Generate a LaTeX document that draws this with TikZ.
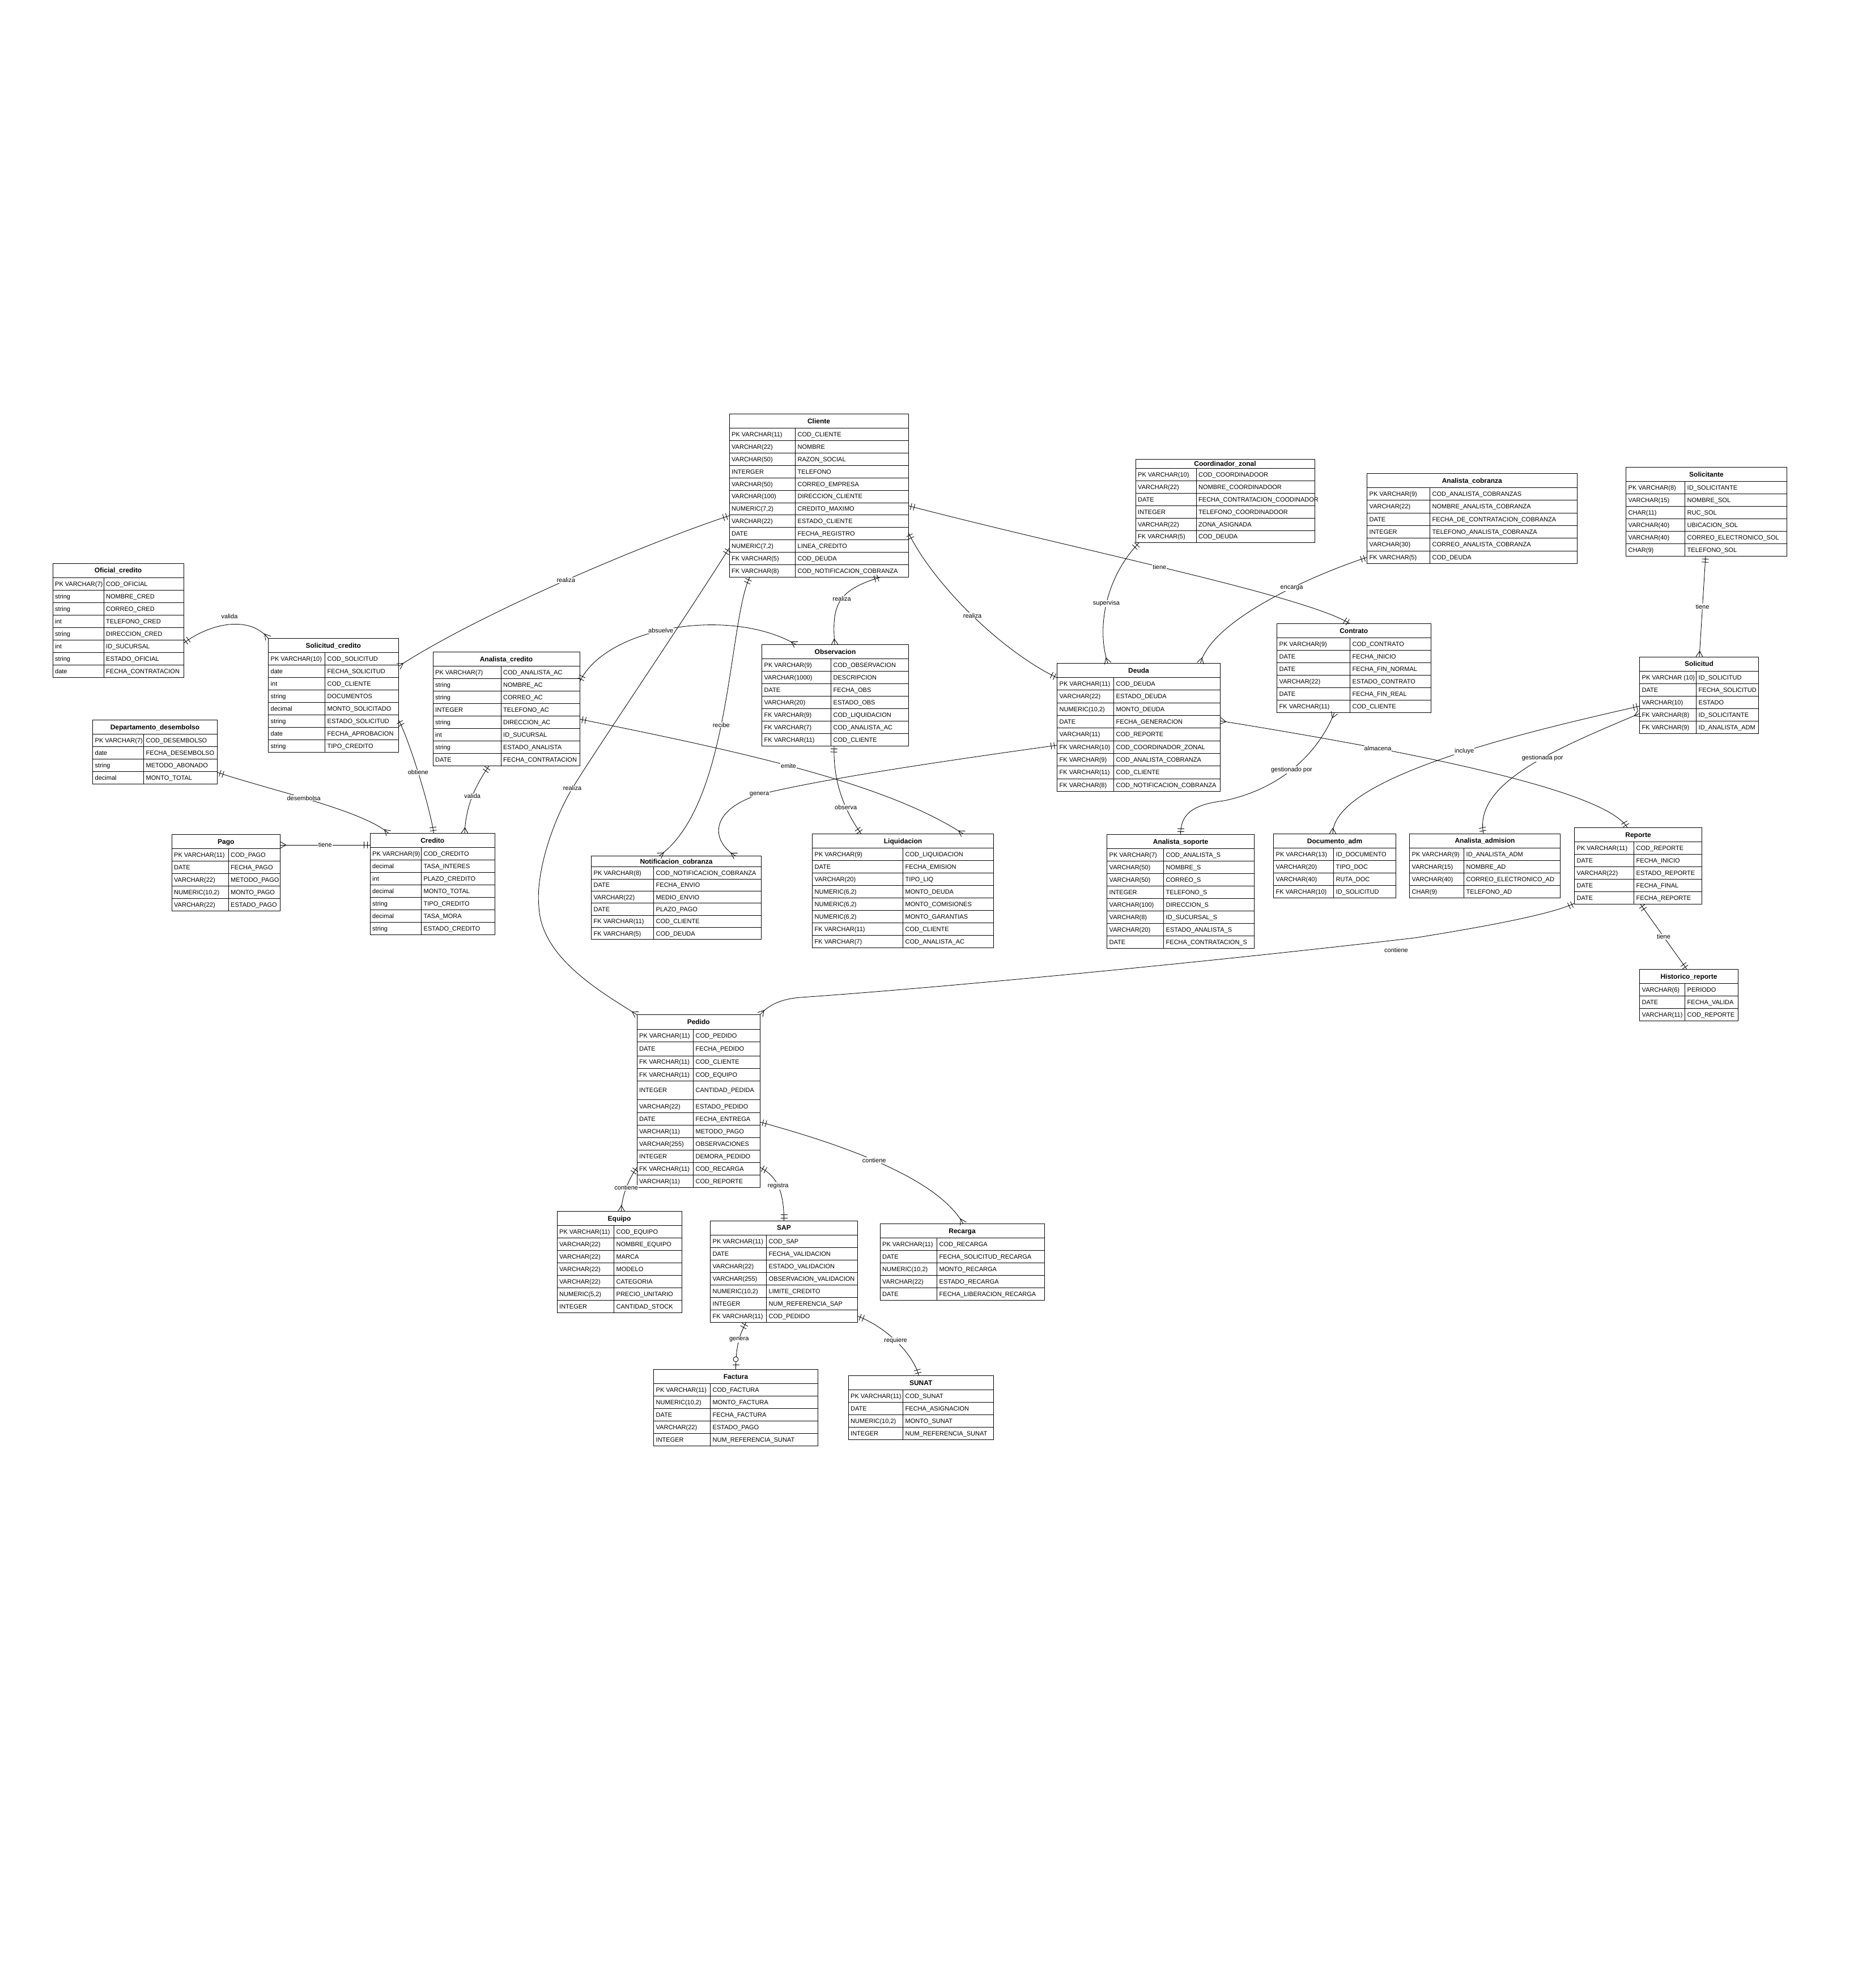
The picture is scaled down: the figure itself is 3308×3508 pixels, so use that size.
\documentclass[tikz,border=0pt]{standalone}
\usepackage{fontspec}
\setmainfont{Liberation Sans}
\usetikzlibrary{calc}

\pgfdeclarearrow{
  name=ERone,
  setup code={
    \pgfarrowssettipend{0pt}
    \pgfarrowssetlineend{0pt}
    \pgfarrowssetbackend{-11pt}
    \pgfarrowssetvisualbackend{-11pt}
    \pgfarrowshullpoint{0pt}{6pt}
    \pgfarrowshullpoint{0pt}{-6pt}
    \pgfarrowshullpoint{-11pt}{6pt}
    \pgfarrowshullpoint{-11pt}{-6pt}
  },
  drawing code={
    \pgfpathmoveto{\pgfqpoint{-5pt}{-6pt}}
    \pgfpathlineto{\pgfqpoint{-5pt}{6pt}}
    \pgfpathmoveto{\pgfqpoint{-10.5pt}{-6pt}}
    \pgfpathlineto{\pgfqpoint{-10.5pt}{6pt}}
    \pgfusepathqstroke
  }
}
\pgfdeclarearrow{
  name=ERmany,
  setup code={
    \pgfarrowssettipend{0pt}
    \pgfarrowssetlineend{0pt}
    \pgfarrowssetbackend{-10pt}
    \pgfarrowssetvisualbackend{-10pt}
    \pgfarrowshullpoint{0pt}{6pt}
    \pgfarrowshullpoint{0pt}{-6pt}
    \pgfarrowshullpoint{-10pt}{0pt}
  },
  drawing code={
    \pgfpathmoveto{\pgfqpoint{0pt}{6pt}}
    \pgfpathlineto{\pgfqpoint{-10pt}{0pt}}
    \pgfpathlineto{\pgfqpoint{0pt}{-6pt}}
    \pgfusepathqstroke
  }
}
\pgfdeclarearrow{
  name=ERzo,
  setup code={
    \pgfarrowssettipend{0pt}
    \pgfarrowssetlineend{0pt}
    \pgfarrowssetbackend{-23pt}
    \pgfarrowssetvisualbackend{-23pt}
    \pgfarrowshullpoint{0pt}{6pt}
    \pgfarrowshullpoint{0pt}{-6pt}
    \pgfarrowshullpoint{-23pt}{5pt}
    \pgfarrowshullpoint{-23pt}{-5pt}
  },
  drawing code={
    \pgfpathmoveto{\pgfqpoint{-8pt}{-6pt}}
    \pgfpathlineto{\pgfqpoint{-8pt}{6pt}}
    \pgfusepathqstroke
    \pgfpathcircle{\pgfqpoint{-18pt}{0pt}}{4.5pt}
    \pgfsetfillcolor{white}
    \pgfusepathqfillstroke
  }
}

\tikzset{
  tbl/.style={draw, line width=1pt, inner sep=0pt, outer sep=0pt},
  rowsep/.style={line width=0.8pt},
  cell/.style={anchor=base west, inner sep=0pt, font=\fontsize{11}{13}\selectfont},
  ttl/.style={anchor=base, inner sep=0pt, font=\fontsize{12}{14}\selectfont\bfseries},
  rel/.style={line width=0.85pt},
  lbl/.style={fill=white, inner sep=1pt, font=\fontsize{11}{13}\selectfont},
}

% #1 name, #2 title, #3 x, #4 y, #5 width, #6 left column width, #7 header height, #8 rows type/name/height
\newcommand\ertable[8]{%
  \pgfmathsetmacro\ercury{#4+#7}%
  \global\let\ercury\ercury
  \foreach \ty/\nm/\rh [count=\k] in {#8}{%
    \draw[rowsep] (#3,\ercury) -- (#3+#5,\ercury);
    \node[cell] (#1t\k) at (#3+4,\ercury+\rh/2+4) {\ty};
    \node[cell] (#1n\k) at (#3+#6+4,\ercury+\rh/2+4) {\nm};
    \pgfmathsetmacro\ercury{\ercury+\rh}%
    \global\let\ercury\ercury
  }%
  \draw[rowsep] (#3+#6,#4+#7) -- (#3+#6,\ercury);
  \node[tbl, minimum width=#5pt, minimum height={(\ercury-(#4))*1pt}, anchor=north west] (#1) at (#3,#4) {};
  \node[ttl] (#1h) at (#3+#5/2,#4+#7/2+4.3) {#2};
}

\begin{document}
\catcode`\_=12
\begin{tikzpicture}[x=1pt,y=-1pt]
\fill[white] (0,0) rectangle (3308,3508);
\path[use as bounding box] (0,0) rectangle (3308,3508);

% ---------------- tables ----------------
\ertable{ofcred}{Oficial_credito}{93}{994}{231}{90}{25}{PK VARCHAR(7)/COD_OFICIAL/22, string/NOMBRE_CRED/22, string/CORREO_CRED/22, int/TELEFONO_CRED/22, string/DIRECCION_CRED/22, int/ID_SUCURSAL/22, string/ESTADO_OFICIAL/22, date/FECHA_CONTRATACION/22}

\ertable{solcred}{Solicitud_credito}{473.5}{1126.5}{229.5}{100}{25}{PK VARCHAR(10)/COD_SOLICITUD/22, date/FECHA_SOLICITUD/22, int/COD_CLIENTE/22, string/DOCUMENTOS/22, decimal/MONTO_SOLICITADO/22, string/ESTADO_SOLICITUD/22, date/FECHA_APROBACION/22, string/TIPO_CREDITO/22}

\ertable{anacred}{Analista_credito}{764}{1150.5}{259}{120}{25}{PK VARCHAR(7)/COD_ANALISTA_AC/22, string/NOMBRE_AC/22, string/CORREO_AC/22, INTEGER/TELEFONO_AC/22, string/DIRECCION_AC/22, int/ID_SUCURSAL/22, string/ESTADO_ANALISTA/22, DATE/FECHA_CONTRATACION/22}

\ertable{depdes}{Departamento_desembolso}{163.5}{1270.5}{220}{90}{25}{PK VARCHAR(7)/COD_DESEMBOLSO/22, date/FECHA_DESEMBOLSO/22, string/METODO_ABONADO/22, decimal/MONTO_TOTAL/22}

\ertable{pago}{Pago}{303}{1472.5}{191.5}{100}{25}{PK VARCHAR(11)/COD_PAGO/22, DATE/FECHA_PAGO/22, VARCHAR(22)/METODO_PAGO/22, {NUMERIC(10,2)}/MONTO_PAGO/22, VARCHAR(22)/ESTADO_PAGO/22}

\ertable{credito}{Credito}{653}{1470.5}{220.5}{90.5}{25}{PK VARCHAR(9)/COD_CREDITO/22, decimal/TASA_INTERES/22, int/PLAZO_CREDITO/22, decimal/MONTO_TOTAL/22, string/TIPO_CREDITO/22, decimal/TASA_MORA/22, string/ESTADO_CREDITO/22}

\ertable{cliente}{Cliente}{1287}{730.5}{316}{116.5}{25}{PK VARCHAR(11)/COD_CLIENTE/21.9, VARCHAR(22)/NOMBRE/21.9, VARCHAR(50)/RAZON_SOCIAL/21.9, INTERGER/TELEFONO/21.9, VARCHAR(50)/CORREO_EMPRESA/21.9, VARCHAR(100)/DIRECCION_CLIENTE/21.9, {NUMERIC(7,2)}/CREDITO_MAXIMO/21.9, VARCHAR(22)/ESTADO_CLIENTE/21.9, DATE/FECHA_REGISTRO/21.9, {NUMERIC(7,2)}/LINEA_CREDITO/21.9, FK VARCHAR(5)/COD_DEUDA/21.9, FK VARCHAR(8)/COD_NOTIFICACION_COBRANZA/21.9}

\ertable{obs}{Observacion}{1344.5}{1137.5}{259}{122}{25}{PK VARCHAR(9)/COD_OBSERVACION/22, VARCHAR(1000)/DESCRIPCION/22, DATE/FECHA_OBS/22, VARCHAR(20)/ESTADO_OBS/22, FK VARCHAR(9)/COD_LIQUIDACION/22, FK VARCHAR(7)/COD_ANALISTA_AC/22, FK VARCHAR(11)/COD_CLIENTE/22}

\ertable{notif}{Notificacion_cobranza}{1043.5}{1510.5}{300}{110}{19}{PK VARCHAR(8)/COD_NOTIFICACION_COBRANZA/21.4, DATE/FECHA_ENVIO/21.4, VARCHAR(22)/MEDIO_ENVIO/21.4, DATE/PLAZO_PAGO/21.4, FK VARCHAR(11)/COD_CLIENTE/21.4, FK VARCHAR(5)/COD_DEUDA/21.4}

\ertable{liq}{Liquidacion}{1433.5}{1471.5}{320}{160}{25}{PK VARCHAR(9)/COD_LIQUIDACION/22, DATE/FECHA_EMISION/22, VARCHAR(20)/TIPO_LIQ/22, {NUMERIC(6,2)}/MONTO_DEUDA/22, {NUMERIC(6,2)}/MONTO_COMISIONES/22, {NUMERIC(6,2)}/MONTO_GARANTIAS/22, FK VARCHAR(11)/COD_CLIENTE/22, FK VARCHAR(7)/COD_ANALISTA_AC/22}

\ertable{coord}{Coordinador_zonal}{2004}{810.5}{316}{107}{16}{PK VARCHAR(10)/COD_COORDINADOOR/21.9, VARCHAR(22)/NOMBRE_COORDINADOOR/21.9, DATE/FECHA_CONTRATACION_COODINADOR/21.9, INTEGER/TELEFONO_COORDINADOOR/21.9, VARCHAR(22)/ZONA_ASIGNADA/21.9, FK VARCHAR(5)/COD_DEUDA/21.9}

\ertable{anacob}{Analista_cobranza}{2412.5}{835.5}{370.5}{111}{25}{PK VARCHAR(9)/COD_ANALISTA_COBRANZAS/22.3, VARCHAR(22)/NOMBRE_ANALISTA_COBRANZA/22.3, DATE/FECHA_DE_CONTRATACION_COBRANZA/22.3, INTEGER/TELEFONO_ANALISTA_COBRANZA/22.3, VARCHAR(30)/CORREO_ANALISTA_COBRANZA/22.3, FK VARCHAR(5)/COD_DEUDA/22.3}

\ertable{solte}{Solicitante}{2869.5}{824.5}{284}{104}{25}{PK VARCHAR(8)/ID_SOLICITANTE/22, VARCHAR(15)/NOMBRE_SOL/22, CHAR(11)/RUC_SOL/22, VARCHAR(40)/UBICACION_SOL/22, VARCHAR(40)/CORREO_ELECTRONICO_SOL/22, CHAR(9)/TELEFONO_SOL/22}

\ertable{contrato}{Contrato}{2253.5}{1100.5}{271.5}{129}{25}{PK VARCHAR(9)/COD_CONTRATO/22, DATE/FECHA_INICIO/22, DATE/FECHA_FIN_NORMAL/22, VARCHAR(22)/ESTADO_CONTRATO/22, DATE/FECHA_FIN_REAL/22, FK VARCHAR(11)/COD_CLIENTE/22}

\ertable{deuda}{Deuda}{1865.5}{1170.5}{288}{100}{25}{PK VARCHAR(11)/COD_DEUDA/22.3, VARCHAR(22)/ESTADO_DEUDA/22.3, {NUMERIC(10,2)}/MONTO_DEUDA/22.3, DATE/FECHA_GENERACION/22.3, VARCHAR(11)/COD_REPORTE/22.3, FK VARCHAR(10)/COD_COORDINADOR_ZONAL/22.3, FK VARCHAR(9)/COD_ANALISTA_COBRANZA/22.3, FK VARCHAR(11)/COD_CLIENTE/22.3, FK VARCHAR(8)/COD_NOTIFICACION_COBRANZA/22.3}

\ertable{solic}{Solicitud}{2893.5}{1159}{210}{100}{25}{PK VARCHAR (10)/ID_SOLICITUD/22, DATE/FECHA_SOLICITUD/22, VARCHAR(10)/ESTADO/22, FK VARCHAR(8)/ID_SOLICITANTE/22, FK VARCHAR(9)/ID_ANALISTA_ADM/22}

\ertable{anasop}{Analista_soporte}{1953.5}{1472.5}{260}{100}{25}{PK VARCHAR(7)/COD_ANALISTA_S/22, VARCHAR(50)/NOMBRE_S/22, VARCHAR(50)/CORREO_S/22, INTEGER/TELEFONO_S/22, VARCHAR(100)/DIRECCION_S/22, VARCHAR(8)/ID_SUCURSAL_S/22, VARCHAR(20)/ESTADO_ANALISTA_S/22, DATE/FECHA_CONTRATACION_S/22}

\ertable{docadm}{Documento_adm}{2247.5}{1471.5}{216}{106}{25}{PK VARCHAR(13)/ID_DOCUMENTO/22, VARCHAR(20)/TIPO_DOC/22, VARCHAR(40)/RUTA_DOC/22, FK VARCHAR(10)/ID_SOLICITUD/22}

\ertable{anaadm}{Analista_admision}{2487.5}{1471}{266}{96}{25}{PK VARCHAR(9)/ID_ANALISTA_ADM/22, VARCHAR(15)/NOMBRE_AD/22, VARCHAR(40)/CORREO_ELECTRONICO_AD/22, CHAR(9)/TELEFONO_AD/22}

\ertable{reporte}{Reporte}{2778.5}{1460.5}{225}{105}{25}{PK VARCHAR(11)/COD_REPORTE/22, DATE/FECHA_INICIO/22, VARCHAR(22)/ESTADO_REPORTE/22, DATE/FECHA_FINAL/22, DATE/FECHA_REPORTE/22}

\ertable{histrep}{Historico_reporte}{2893.5}{1710.5}{174}{80}{25}{VARCHAR(6)/PERIODO/22, DATE/FECHA_VALIDA/22, VARCHAR(11)/COD_REPORTE/22}

\ertable{pedido}{Pedido}{1124}{1790.5}{217.5}{99.5}{26}{PK VARCHAR(11)/COD_PEDIDO/22, DATE/FECHA_PEDIDO/24.4, FK VARCHAR(11)/COD_CLIENTE/22.1, FK VARCHAR(11)/COD_EQUIPO/22, INTEGER/CANTIDAD_PEDIDA/33.7, VARCHAR(22)/ESTADO_PEDIDO/22.6, DATE/FECHA_ENTREGA/22.1, VARCHAR(11)/METODO_PAGO/22, VARCHAR(255)/OBSERVACIONES/22.1, INTEGER/DEMORA_PEDIDO/22, FK VARCHAR(11)/COD_RECARGA/22.1, VARCHAR(11)/COD_REPORTE/22}

\ertable{equipo}{Equipo}{983}{2137.5}{220}{100.5}{25}{PK VARCHAR(11)/COD_EQUIPO/22, VARCHAR(22)/NOMBRE_EQUIPO/22, VARCHAR(22)/MARCA/22, VARCHAR(22)/MODELO/22, VARCHAR(22)/CATEGORIA/22, {NUMERIC(5,2)}/PRECIO_UNITARIO/22, INTEGER/CANTIDAD_STOCK/22}

\ertable{sap}{SAP}{1253.5}{2154}{260}{99}{25}{PK VARCHAR(11)/COD_SAP/22, DATE/FECHA_VALIDACION/22, VARCHAR(22)/ESTADO_VALIDACION/22, VARCHAR(255)/OBSERVACION_VALIDACION/22, {NUMERIC(10,2)}/LIMITE_CREDITO/22, INTEGER/NUM_REFERENCIA_SAP/22, FK VARCHAR(11)/COD_PEDIDO/22}

\ertable{recarga}{Recarga}{1553}{2159.5}{290}{100.5}{25}{PK VARCHAR(11)/COD_RECARGA/22, DATE/FECHA_SOLICITUD_RECARGA/22, {NUMERIC(10,2)}/MONTO_RECARGA/22, VARCHAR(22)/ESTADO_RECARGA/22, DATE/FECHA_LIBERACION_RECARGA/22}

\ertable{factura}{Factura}{1153.5}{2416.5}{290}{100}{25}{PK VARCHAR(11)/COD_FACTURA/22, {NUMERIC(10,2)}/MONTO_FACTURA/22, DATE/FECHA_FACTURA/22, VARCHAR(22)/ESTADO_PAGO/22, INTEGER/NUM_REFERENCIA_SUNAT/22}

\ertable{sunat}{SUNAT}{1497}{2427.5}{256.5}{96.5}{25}{PK VARCHAR(11)/COD_SUNAT/22, DATE/FECHA_ASIGNACION/22, {NUMERIC(10,2)}/MONTO_SUNAT/22, INTEGER/NUM_REFERENCIA_SUNAT/22}

% ---------------- relationships ----------------
% valida (Oficial_credito - Solicitud_credito)
\draw[rel,{ERone}-{ERmany}] ($(ofcred.north west)+(231,141)$) .. controls (370,1100) and (440,1085) .. ($(solcred.north west)+(0,0)$);
\node[inner sep=1pt, font=\fontsize{11}{13}\selectfont] (l1) at (405,1088) {valida};

% realiza (Cliente - Solicitud_credito)
\draw[rel,{ERone}-{ERmany}] ($(cliente.north west)+(0,179.5)$) .. controls (1150,955) and (850,1080) .. ($(solcred.north west)+(229.5,49.5)$) node[lbl,pos=0.5] (l2) {realiza};

% realiza (Cliente - Pedido)
\draw[rel,{ERone}-{ERmany}] ($(cliente.north west)+(0,236.5)$) .. controls (1200,1105) and (1060,1310) .. (1010,1391) node[lbl] (l3) {realiza} .. controls (975,1450) and (945,1540) .. (951,1600) .. controls (955,1690) and (1060,1750) .. ($(pedido.north west)+(0,0)$);

% recibe (Cliente - Notificacion_cobranza)
\draw[rel,{ERone}-{ERmany}] ($(cliente.north west)+(36,288)$) .. controls (1285,1100) and (1290,1420) .. ($(notif.north west)+(119.5,0)$) node[lbl,pos=0.53] (l4) {recibe};

% realiza (Cliente - Observacion)
\draw[rel,{ERone}-{ERmany}] ($(cliente.north west)+(267,288)$) .. controls (1475,1042) and (1468,1070) .. ($(obs.north west)+(128.5,0)$) node[lbl,pos=0.45] (l5) {realiza};

% realiza (Cliente - Deuda)
\draw[rel,{ERone}-{ERone}] ($(cliente.north west)+(316,209.5)$) .. controls (1650,1035) and (1770,1150) .. ($(deuda.north west)+(0,25.5)$) node[lbl,pos=0.5] (l6) {realiza};

% tiene (Cliente - Contrato)
\draw[rel,{ERone}-{ERone}] ($(cliente.north west)+(316,162)$) .. controls (1900,970) and (2300,1050) .. ($(contrato.north west)+(129,0)$) node[lbl,pos=0.47] (l7) {tiene};

% supervisa (Coordinador_zonal - Deuda)
\draw[rel,{ERone}-{ERmany}] ($(coord.north west)+(6,147.4)$) .. controls (1950,1020) and (1935,1110) .. ($(deuda.north west)+(89.5,0)$) node[lbl,pos=0.5] (l8) {supervisa};

% encarga (Analista_cobranza - Deuda)
\draw[rel,{ERone}-{ERmany}] ($(anacob.north west)+(0,148)$) .. controls (2330,1010) and (2140,1090) .. ($(deuda.north west)+(253,0)$) node[lbl,pos=0.4] (l9) {encarga};

% tiene (Solicitante - Solicitud)
\draw[rel,{ERone}-{ERmany}] ($(solte.north west)+(140.5,157)$) -- node[lbl] (l10) {tiene} ($(solic.north west)+(105.5,0)$);

% incluye (Solicitud - Documento_adm)
\draw[rel,{ERone}-{ERmany}] ($(solic.north west)+(0,87)$) .. controls (2700,1290) and (2352,1370) .. ($(docadm.north west)+(104.5,0)$) node[lbl,pos=0.45] (l11) {incluye};

% gestionada por (Solicitud - Analista_admision)
\draw[rel,{ERmany}-{ERone}] ($(solic.north west)+(0,100)$) .. controls (2750,1320) and (2600,1380) .. ($(anaadm.north west)+(130.5,0)$) node[lbl,pos=0.42] (l12) {gestionada por};

% almacena (Deuda - Reporte)
\draw[rel,{ERmany}-{ERone}] ($(deuda.north west)+(288,101.5)$) .. controls (2450,1320) and (2830,1390) .. ($(reporte.north west)+(93.5,0)$) node[lbl,pos=0.3] (l13) {almacena};

% gestionado por (Contrato - Analista_soporte)
\draw[rel,{ERmany}-{ERone}] ($(contrato.north west)+(101.5,157)$) .. controls (2330,1320) and (2270,1390) .. (2160,1413) node[lbl,pos=0.55] (l14) {gestionado por} .. controls (2100,1420) and (2083.5,1440) .. ($(anasop.north west)+(130,0)$);

% contiene (Reporte - Pedido)
\draw[rel,{ERone}-{ERmany}] ($(reporte.north west)+(0,133.5)$) .. controls (2740,1612) and (2640,1632) .. (2500,1654.5) .. controls (2200,1690) and (1700,1740) .. (1413,1760) .. controls (1375,1763) and (1355,1775) .. ($(pedido.north west)+(217.5,0)$);
\node[lbl] (l15) at (2464,1677) {contiene};

% genera (Deuda - Notificacion_cobranza)
\draw[rel,{ERone}-{ERmany}] ($(deuda.north west)+(0,144.5)$) .. controls (1650,1345) and (1450,1375) .. (1340,1402) node[lbl] (l16) {genera} .. controls (1250,1430) and (1255,1485) .. ($(notif.north west)+(255,0)$);

% observa (Observacion - Liquidacion)
\draw[rel,{ERone}-{ERone}] ($(obs.north west)+(127.5,179)$) .. controls (1470,1380) and (1490,1430) .. ($(liq.north west)+(86.5,0)$) node[lbl,pos=0.65] (l17) {observa};

% emite (Analista_credito - Liquidacion)
\draw[rel,{ERone}-{ERmany}] ($(anacred.north west)+(259,118.5)$) .. controls (1300,1325) and (1560,1380) .. ($(liq.north west)+(266.5,0)$) node[lbl,pos=0.47] (l18) {emite};

% absuelve (Analista_credito - Observacion)
\draw[rel,{ERone}-{ERmany}] ($(anacred.north west)+(259,52.5)$) .. controls (1070,1105) and (1290,1070) .. ($(obs.north west)+(60.5,0)$) node[lbl,pos=0.45] (l19) {absuelve};

% valida (Analista_credito - Credito)
\draw[rel,{ERone}-{ERmany}] ($(anacred.north west)+(99,201)$) .. controls (840,1385) and (822,1420) .. ($(credito.north west)+(167,0)$) node[lbl,pos=0.5] (l20) {valida};

% obtiene (Solicitud_credito - Credito)
\draw[rel,{ERone}-{ERone}] ($(solcred.north west)+(229.5,143.5)$) .. controls (720,1300) and (758,1420) .. ($(credito.north west)+(112.5,0)$) node[lbl,pos=0.5] (l21) {obtiene};

% desembolsa (Departamento_desembolso - Credito)
\draw[rel,{ERone}-{ERmany}] ($(depdes.north west)+(220,92.5)$) .. controls (480,1395) and (640,1430) .. ($(credito.north west)+(33,0)$) node[lbl,pos=0.45] (l22) {desembolsa};

% tiene (Credito - Pago)
\draw[rel,{ERone}-{ERmany}] ($(credito.north west)+(0,20.5)$) -- node[lbl] (l23) {tiene} ($(pago.north west)+(191.5,18.5)$);

% contiene (Pedido - Equipo)
\draw[rel,{ERone}-{ERmany}] ($(pedido.north west)+(0,269.5)$) .. controls (1110,2080) and (1097,2110) .. ($(equipo.north west)+(113.5,0)$) node[lbl,pos=0.5] (l24) {contiene};

% registra (Pedido - SAP)
\draw[rel,{ERone}-{ERone}] ($(pedido.north west)+(217.5,269.5)$) .. controls (1370,2075) and (1383.5,2100) .. ($(sap.north west)+(130,0)$) node[lbl,pos=0.5] (l25) {registra};

% contiene (Pedido - Recarga)
\draw[rel,{ERone}-{ERmany}] ($(pedido.north west)+(217.5,189.5)$) .. controls (1450,2010) and (1650,2070) .. ($(recarga.north west)+(147,0)$) node[lbl,pos=0.5] (l26) {contiene};

% genera (SAP - Factura)
\draw[rel,{ERone}-{ERzo}] ($(sap.north west)+(63.5,179)$) .. controls (1305,2355) and (1298.5,2375) .. ($(factura.north west)+(145,0)$) node[lbl,pos=0.45] (l27) {genera};

% requiere (SAP - SUNAT)
\draw[rel,{ERone}-{ERone}] ($(sap.north west)+(260,168.5)$) .. controls (1560,2340) and (1610,2385) .. ($(sunat.north west)+(124.5,0)$) node[lbl,pos=0.5] (l28) {requiere};

% tiene (Reporte - Historico_reporte)
\draw[rel,{ERone}-{ERone}] ($(reporte.north west)+(116.5,135)$) -- node[lbl] (l29) {tiene} ($(histrep.north west)+(83.5,0)$);

\end{tikzpicture}
\end{document}
